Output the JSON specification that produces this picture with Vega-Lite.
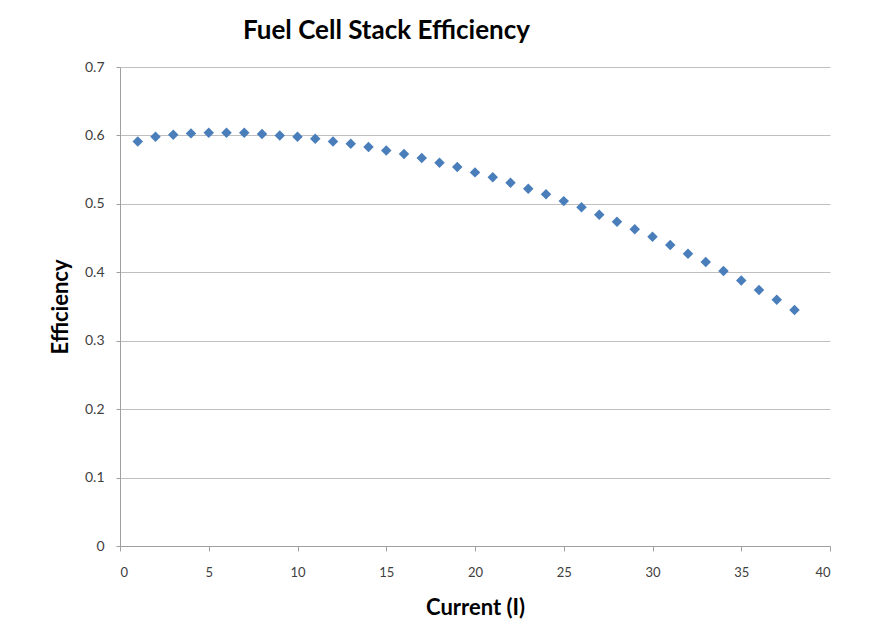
{
  "$schema": "https://vega.github.io/schema/vega-lite/v6.json",
  "width": 710,
  "height": 479,
  "autosize": {"type": "none"},
  "padding": {"left": 120, "top": 67, "right": 45, "bottom": 92},
  "background": "white",
  "title": {
    "text": "Fuel Cell Stack Efficiency",
    "font": "Lato",
    "fontSize": 26,
    "fontWeight": "bold",
    "color": "#000000",
    "anchor": "start",
    "frame": "group",
    "baseline": "alphabetic",
    "dx": 123,
    "offset": -5
  },
  "data": {
    "values": [
      {"current": 1, "efficiency": 0.591},
      {"current": 2, "efficiency": 0.598},
      {"current": 3, "efficiency": 0.601},
      {"current": 4, "efficiency": 0.603},
      {"current": 5, "efficiency": 0.604},
      {"current": 6, "efficiency": 0.604},
      {"current": 7, "efficiency": 0.604},
      {"current": 8, "efficiency": 0.602},
      {"current": 9, "efficiency": 0.600},
      {"current": 10, "efficiency": 0.598},
      {"current": 11, "efficiency": 0.595},
      {"current": 12, "efficiency": 0.591},
      {"current": 13, "efficiency": 0.588},
      {"current": 14, "efficiency": 0.583},
      {"current": 15, "efficiency": 0.578},
      {"current": 16, "efficiency": 0.573},
      {"current": 17, "efficiency": 0.567},
      {"current": 18, "efficiency": 0.560},
      {"current": 19, "efficiency": 0.554},
      {"current": 20, "efficiency": 0.546},
      {"current": 21, "efficiency": 0.539},
      {"current": 22, "efficiency": 0.531},
      {"current": 23, "efficiency": 0.522},
      {"current": 24, "efficiency": 0.514},
      {"current": 25, "efficiency": 0.504},
      {"current": 26, "efficiency": 0.495},
      {"current": 27, "efficiency": 0.484},
      {"current": 28, "efficiency": 0.474},
      {"current": 29, "efficiency": 0.463},
      {"current": 30, "efficiency": 0.452},
      {"current": 31, "efficiency": 0.440},
      {"current": 32, "efficiency": 0.427},
      {"current": 33, "efficiency": 0.415},
      {"current": 34, "efficiency": 0.402},
      {"current": 35, "efficiency": 0.388},
      {"current": 36, "efficiency": 0.374},
      {"current": 37, "efficiency": 0.360},
      {"current": 38, "efficiency": 0.345}
    ]
  },
  "mark": {"type": "point", "shape": "diamond", "filled": true, "size": 110, "color": "#4A7EBB", "opacity": 1},
  "encoding": {
    "x": {
      "field": "current",
      "type": "quantitative",
      "scale": {"domain": [0, 40], "nice": false, "zero": true},
      "axis": {
        "title": "Current (I)",
        "values": [0, 5, 10, 15, 20, 25, 30, 35, 40],
        "grid": false,
        "titleFont": "Lato",
        "titleFontSize": 22,
        "titleFontWeight": "bold",
        "titleColor": "#000000",
        "titlePadding": 18,
        "labelFont": "Lato",
        "labelFontSize": 13,
        "labelColor": "#404040",
        "labelPadding": 15,
        "tickSize": 5,
        "tickColor": "#A0A0A0",
        "domainColor": "#A0A0A0"
      }
    },
    "y": {
      "field": "efficiency",
      "type": "quantitative",
      "scale": {"domain": [0, 0.7], "nice": false, "zero": true},
      "axis": {
        "title": "Efficiency",
        "values": [0, 0.1, 0.2, 0.3, 0.4, 0.5, 0.6, 0.7],
        "labelExpr": "datum.value == 0 ? '0' : format(datum.value, '.1f')",
        "grid": true,
        "gridColor": "#BFBFBF",
        "gridWidth": 1,
        "titleFont": "Lato",
        "titleFontSize": 22,
        "titleFontWeight": "bold",
        "titleColor": "#000000",
        "titlePadding": 12,
        "labelFont": "Lato",
        "labelFontSize": 14,
        "labelColor": "#404040",
        "labelPadding": 12,
        "tickSize": 4,
        "tickColor": "#A0A0A0",
        "domainColor": "#A0A0A0"
      }
    }
  },
  "config": {
    "view": {"stroke": null}
  }
}
